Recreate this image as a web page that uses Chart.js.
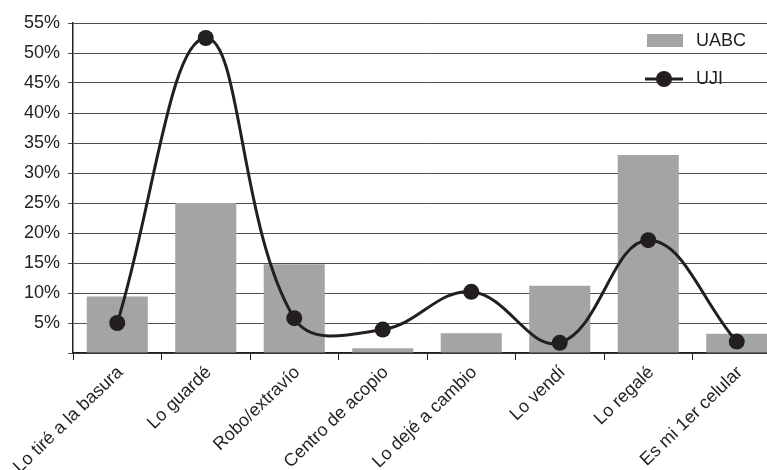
<!DOCTYPE html>
<html>
<head>
<meta charset="utf-8">
<script src="https://cdn.jsdelivr.net/npm/chart.js@4"></script>
<style>
  html, body { margin: 0; padding: 0; background: #fff; overflow: hidden; }
  #wrap { width: 767px; height: 470px; overflow: hidden; position: relative; }
  canvas { display: block; }
</style>
</head>
<body>
<div id="wrap"><canvas id="c" width="789" height="470"></canvas></div>
<script>
// What happened to the previous mobile phone (share of respondents, %)
const categories = [
  'Lo tiré a la basura', 'Lo guardé', 'Robo/extravío', 'Centro de acopio',
  'Lo dejé a cambio', 'Lo vendí', 'Lo regalé', 'Es mi 1er celular'
];
const uabc = [9.4, 25, 14.8, 0.8, 3.3, 11.2, 33, 3.2];
const uji = [5, 52.5, 5.8, 3.9, 10.2, 1.7, 18.8, 1.9];
const yTicks = [0, 5, 10, 15, 20, 25, 30, 35, 40, 45, 50, 55];

const BAR = '#a3a4a6';
const INK = '#231f20';
const FONT = '"Liberation Sans", Arial, sans-serif';

// Legend drawn inside the plot, top right, over the grid
const insideLegend = {
  id: 'insideLegend',
  afterDraw(chart) {
    const ctx = chart.ctx;
    ctx.save();
    ctx.font = '18px ' + FONT;
    ctx.textBaseline = 'middle';
    ctx.textAlign = 'left';
    ctx.fillStyle = BAR;
    ctx.fillRect(647, 34, 36, 13);
    ctx.fillStyle = INK;
    ctx.fillText(chart.data.datasets[1].label, 696, 41);
    ctx.strokeStyle = INK;
    ctx.lineWidth = 3;
    ctx.beginPath();
    ctx.moveTo(645, 79);
    ctx.lineTo(683, 79);
    ctx.stroke();
    ctx.beginPath();
    ctx.arc(664, 79, 8, 0, Math.PI * 2);
    ctx.fill();
    ctx.fillText(chart.data.datasets[0].label, 696, 79);
    ctx.restore();
  }
};

new Chart(document.getElementById('c'), {
  data: {
    labels: categories,
    datasets: [
      {
        type: 'line',
        label: 'UJI',
        data: uji,
        order: 0,
        borderColor: INK,
        borderWidth: 3,
        tension: 0.4,
        pointRadius: 8,
        pointBorderWidth: 0,
        pointBackgroundColor: INK,
        pointHoverRadius: 8
      },
      {
        type: 'bar',
        label: 'UABC',
        data: uabc,
        order: 1,
        backgroundColor: BAR,
        borderWidth: 0,
        categoryPercentage: 1,
        barPercentage: 0.69
      }
    ]
  },
  options: {
    responsive: false,
    animation: false,
    devicePixelRatio: 1,
    layout: { padding: { top: 23, right: 0, left: 0, bottom: 0 } },
    plugins: {
      legend: { display: false },
      tooltip: { enabled: false }
    },
    scales: {
      x: {
        offset: true,
        grid: {
          offset: true,
          drawOnChartArea: false,
          drawTicks: true,
          tickLength: 7,
          color: INK,
          lineWidth: 1
        },
        border: { color: INK, width: 1.5 },
        ticks: {
          color: INK,
          font: { family: FONT, size: 18 },
          minRotation: 44,
          maxRotation: 44,
          autoSkip: false,
          padding: 2,
          labelOffset: 3
        },
        afterFit(scale) { scale.height = 117; }
      },
      y: {
        min: 0,
        max: 55,
        afterBuildTicks(scale) { scale.ticks = yTicks.map(v => ({ value: v })); },
        grid: {
          color: '#4d4d4d',
          lineWidth: 1,
          tickLength: 5
        },
        border: { color: INK, width: 1.5 },
        ticks: {
          color: INK,
          font: { family: FONT, size: 18 },
          padding: 8,
          callback: v => (v === 0 ? '' : v + '%')
        },
        afterFit(scale) { scale.width = 73; }
      }
    }
  },
  plugins: [insideLegend]
});
</script>
</body>
</html>
